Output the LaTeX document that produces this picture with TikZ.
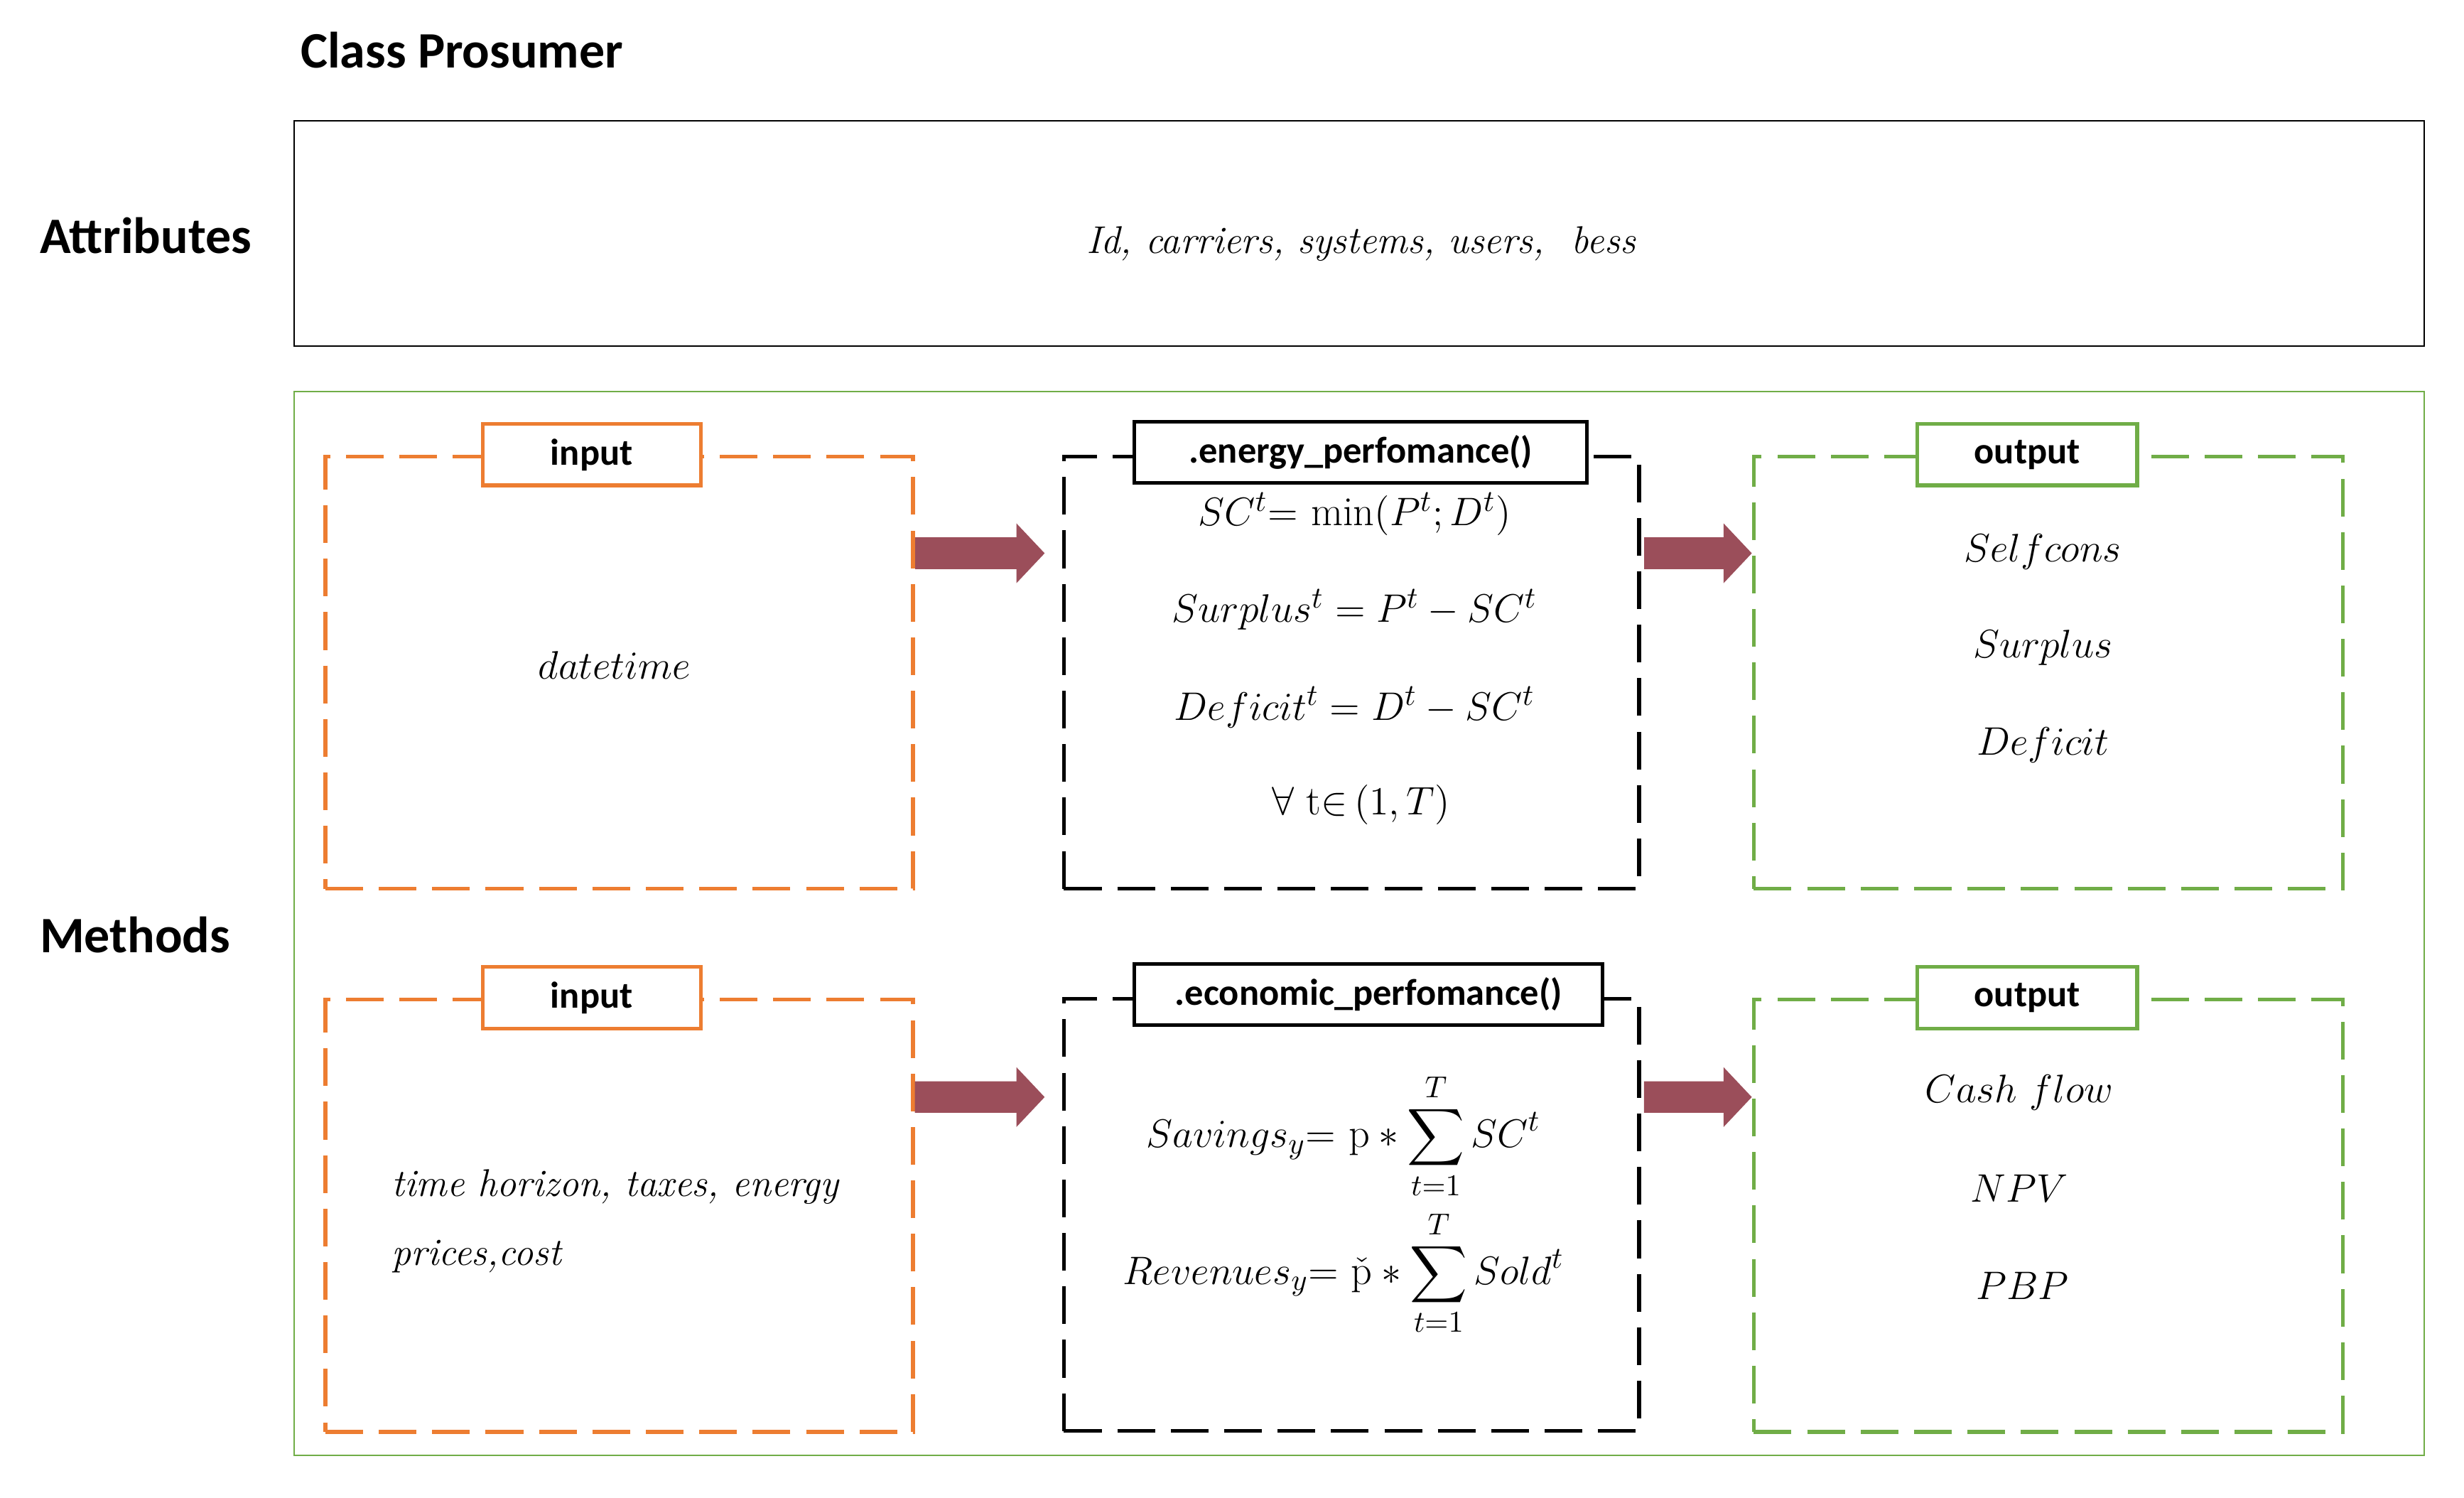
\documentclass[tikz,border=0pt]{standalone}
\usepackage{amsmath}
\usepackage{fontspec}
\newfontfamily\calibri{Carlito}
\usepackage{tikz}
\usetikzlibrary{arrows.meta}
\usetikzlibrary{positioning}
\definecolor{prorange}{HTML}{ED7D31}
\definecolor{progreen}{HTML}{70AD47}
\definecolor{flowred}{HTML}{9B4E5A}
\tikzset{head/.style = {font=\calibri\bfseries\fontsize{18.5}{22}\selectfont, inner sep=0pt, anchor=west}}
\tikzset{frame/.style = {draw=#1, line width=1.4pt, dash pattern=on 0.48cm off 0.2cm, minimum height=5.5cm}}
\tikzset{lbl/.style = {draw=#1, fill=white, line width=1.3pt, minimum height=0.78cm, font=\calibri\bfseries\fontsize{13.5}{16}\selectfont}}
\tikzset{txt/.style = {font=\fontsize{15}{18}\selectfont, inner sep=0pt}}
\tikzset{flow/.style = {draw=flowred, line width=0.4cm, -{Triangle[length=0.36cm,width=0.74cm]}}}

\begin{document}
\begin{tikzpicture}[x=0.02cm,y=-0.02cm]
            \useasboundingbox (0,0) rectangle (1568,953);

            % Headings
            \node[head] (title) at (191,32) {Class Prosumer};
            \node[head] (attrhead) at (25,150) {Attributes};
            \node[head] (methhead) at (25,595) {Methods};

            % Outer boxes
            \node[draw, line width=0.5pt, minimum width=27.12cm, minimum height=2.86cm] (attr) at (865,148.5) {};
            \node[txt, font=\itshape\fontsize{14}{18}\selectfont] (attrtxt) at (866,155) {Id, carriers, systems, users,~ bess};
            \node[draw=progreen, line width=0.5pt, minimum width=27.12cm, minimum height=13.54cm] (meth) at (865,587.5) {};

            % Frames
            \node[frame=prorange, minimum width=7.48cm] (in1) at (394,428) {};
            \node[frame=black, minimum width=7.32cm] (en) at (860,428) {};
            \node[frame=progreen, minimum width=7.5cm] (out1) at (1303.5,428) {};
            \node[frame=prorange, minimum width=7.48cm] (in2) at (394,773.5) {};
            \node[frame=black, minimum width=7.32cm] (eco) at (860,773) {};
            \node[frame=progreen, minimum width=7.5cm] (out2) at (1303.5,773.5) {};

            % Labels
            \node[lbl=prorange, minimum width=2.78cm] (inlbl1) at ([xshift=-0.35cm]in1.north) {input};
            \node[lbl=black, minimum width=5.76cm] (enlbl) at ([xshift=0.12cm,yshift=0.03cm]en.north) {.energy\_perfomance()};
            \node[lbl=progreen, minimum width=2.8cm] (outlbl1) at ([xshift=-0.27cm]out1.north) {output};
            \node[lbl=prorange, minimum width=2.78cm] (inlbl2) at ([xshift=-0.35cm]in2.north) {input};
            \node[lbl=black, minimum width=5.96cm] (ecolbl) at ([xshift=0.22cm,yshift=0.03cm]eco.north) {.economic\_perfomance()};
            \node[lbl=progreen, minimum width=2.8cm] (outlbl2) at ([xshift=-0.27cm]out2.north) {output};

            % Texts
            % energy row
            \node[txt] (dt) at (391,423) {$datetime$};
            \node[txt] (sc) at (862,327) {$SC^t{=}\,\min(P^t;D^t)$};
            \node[txt] (sur) at (862,388) {$Surplus^t=P^t-SC^t$};
            \node[txt] (def) at (862,450) {$Deficit^t=D^t-SC^t$};
            \node[txt] (all) at (866,512) {$\forall\ \mathrm{t}{\in}\,(1,T)$};
            \node[txt] (selfc) at (1300,351) {$Selfcons$};
            \node[txt] (surp) at (1300,412) {$Surplus$};
            \node[txt] (defi) at (1300,474) {$Deficit$};

            % economic row
            \node[txt, anchor=west, align=left, font=\itshape\fontsize{14}{25}\selectfont] (ecoin) at (249,777) {time horizon, taxes, energy\\prices,cost};
            \node[txt] (sav) at (855,723) {$\displaystyle Savings_y{=}\ \mathrm{p}*\sum_{t=1}^{T}SC^t$};
            \node[txt] (rev) at (855,810) {$\displaystyle Revenues_y{=}\ \check{\mathrm{p}}*\sum_{t=1}^{T}Sold^t$};
            \node[txt] (cash) at (1285,695) {$Cash\ flow$};
            \node[txt] (npv) at (1285,756) {$NPV$};
            \node[txt] (pbp) at (1287,818) {$PBP$};

            % Flows
            \draw[flow] ([yshift=1.52cm]in1.east) -- ([xshift=-0.22cm,yshift=1.52cm]en.west);
            \draw[flow] ([xshift=0.04cm,yshift=1.52cm]en.east) -- ([yshift=1.52cm]out1.west);
            \draw[flow] ([yshift=1.51cm]in2.east) -- ([xshift=-0.22cm,yshift=1.5cm]eco.west);
            \draw[flow] ([xshift=0.04cm,yshift=1.5cm]eco.east) -- ([yshift=1.51cm]out2.west);
        \end{tikzpicture}
\end{document}
